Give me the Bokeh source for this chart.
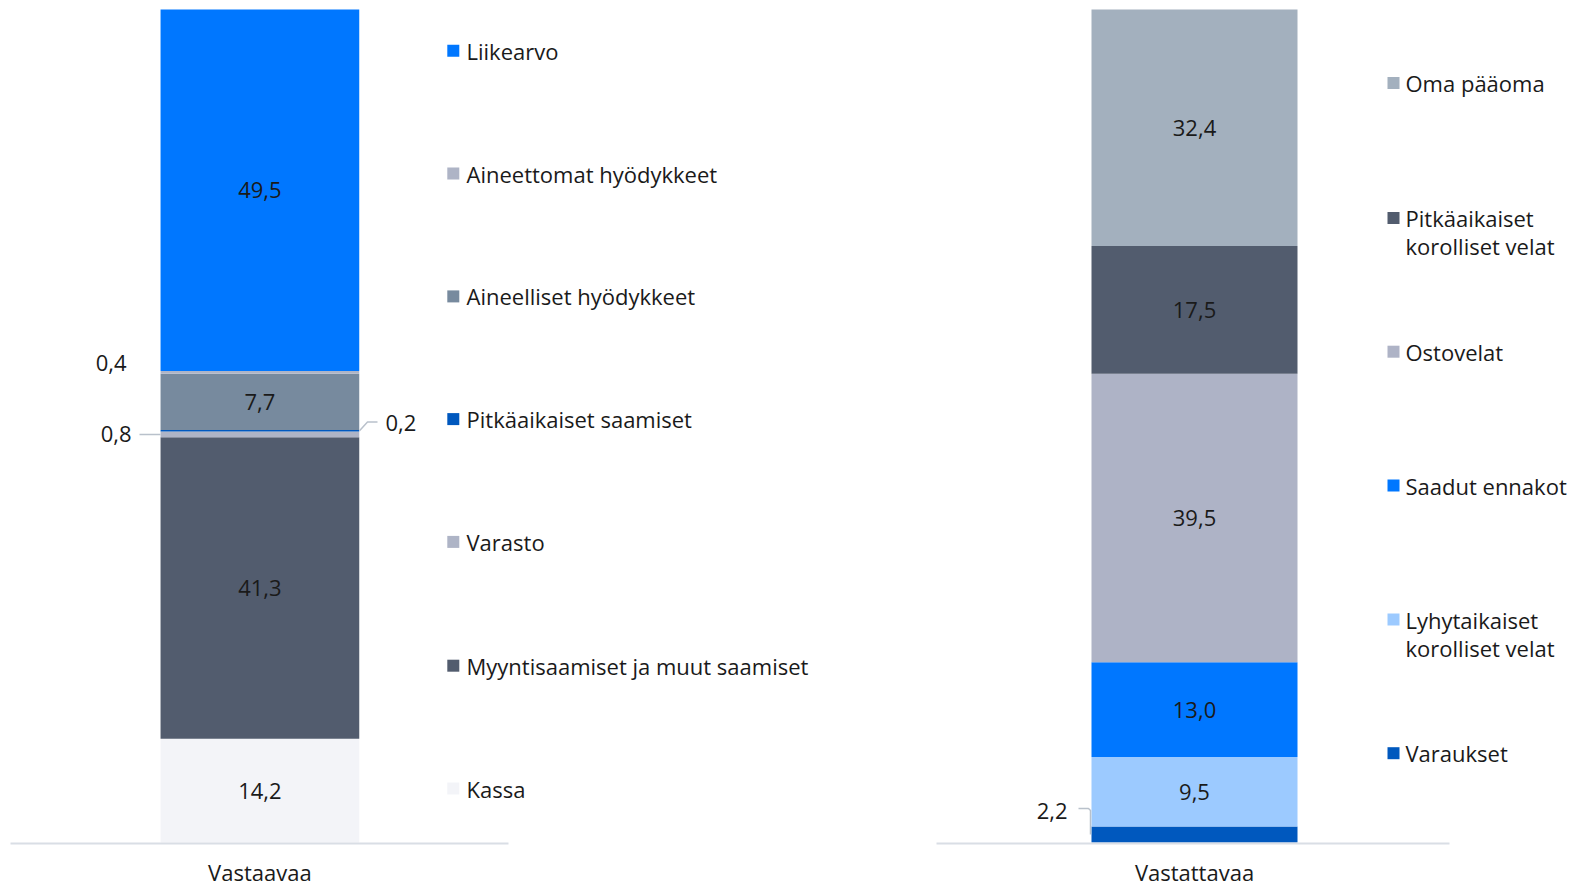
from bokeh.plotting import figure
from bokeh.models import Range1d, ColumnDataSource
from bokeh.core.properties import value
from bokeh.embed import file_html
from bokeh.resources import INLINE
import numpy as np

# ---------------- data ----------------
categories = ["Vastaavaa", "Vastattavaa"]

assets_labels = ["Kassa", "Myyntisaamiset ja muut saamiset", "Varasto",
                 "Pitkäaikaiset saamiset", "Aineelliset hyödykkeet",
                 "Aineettomat hyödykkeet", "Liikearvo"]
assets_values = [14.2, 41.3, 0.8, 0.2, 7.7, 0.4, 49.5]
assets_colors = ["#F3F4F8", "#525C6E", "#AEB4C6", "#0058BE", "#778A9E",
                 "#AEB4C6", "#0077FF"]

liab_labels = ["Varaukset", "Lyhytaikaiset\nkorolliset velat", "Saadut ennakot",
               "Ostovelat", "Pitkäaikaiset\nkorolliset velat", "Oma pääoma"]
liab_values = [2.2, 9.5, 13.0, 39.5, 17.5, 32.4]
liab_colors = ["#0058BE", "#9CCAFF", "#0077FF", "#AEB3C6", "#525C6E", "#A3B0BE"]

# ---------------- layout helpers ----------------
W, H = 1578, 885
PX = 7.30            # pixels per unit
BASE = 842           # page y of value 0
def fy(page_y):      # page y -> data y
    return (BASE - page_y) / PX
def fx(page_x):      # page x -> data x
    return page_x

FONT = value("Open Sans")
FS = "22px"
TXT = "#1A1A1A"
LINE = 28.5          # px between legend text lines

p = figure(width=W, height=H, output_backend="svg", toolbar_location=None,
           x_range=Range1d(0, W), y_range=Range1d(fy(H), fy(0)),
           min_border=0, min_border_left=0, min_border_right=0,
           min_border_top=0, min_border_bottom=0)
p.xaxis.visible = False
p.yaxis.visible = False
p.xgrid.visible = False
p.ygrid.visible = False
p.outline_line_color = None
p.background_fill_color = "white"
p.border_fill_color = "white"

def draw_stack(vals, cols, cx, width):
    v = np.array(vals, dtype=float)
    top = np.cumsum(v)
    bottom = top - v
    src = ColumnDataSource(dict(x=[cx] * len(v), bottom=bottom, top=top, color=cols))
    p.vbar(x="x", width=width, bottom="bottom", top="top", color="color",
           line_color=None, source=src)
    return bottom, top

# bars
lcx, lw = fx(259.4), 198.7
rcx, rw = fx(1194), 206
lb, lt = draw_stack(assets_values, assets_colors, lcx, lw)
rb, rt = draw_stack(liab_values, liab_colors, rcx, rw)

def fmt(v):
    return f"{v:.1f}".replace(".", ",")

def txt(xs, ys, ts, align):
    p.text(x=xs, y=ys, text=ts, text_align=align, text_baseline="middle",
           text_font=FONT, text_font_size=FS, text_color=TXT)

# in-bar labels for large segments
for vals, b, t, cx in ((assets_values, lb, lt, lcx), (liab_values, rb, rt, rcx)):
    xs, ys, ts = [], [], []
    for v, bb, tt in zip(vals, b, t):
        if v >= 5:
            xs.append(cx); ys.append((bb + tt) / 2); ts.append(fmt(v))
    txt(xs, ys, ts, "center")

LC = "#B9C1CB"
# 0,4 (Aineettomat)
i = assets_labels.index("Aineettomat hyödykkeet")
txt([fx(126)], [fy(362)], [fmt(assets_values[i])], "right")
# 0,8 (Varasto)
i = assets_labels.index("Varasto")
cy = (lb[i] + lt[i]) / 2
p.line(x=[fx(139), fx(160)], y=[cy, cy], line_color=LC, line_width=1.5)
txt([fx(131)], [cy], [fmt(assets_values[i])], "right")
# 0,2 (Pitkäaikaiset saamiset)
i = assets_labels.index("Pitkäaikaiset saamiset")
cy = (lb[i] + lt[i]) / 2
p.line(x=[fx(359), fx(367), fx(377)], y=[cy, fy(421.5), fy(421.5)],
       line_color=LC, line_width=1.5)
txt([fx(385)], [fy(422.5)], [fmt(assets_values[i])], "left")
# 2,2 (Varaukset)
i = liab_labels.index("Varaukset")
cy = (rb[i] + rt[i]) / 2
p.line(x=[fx(1078), fx(1088), fx(1090), fx(1090)],
       y=[fy(808), fy(808), fy(810), cy], line_color=LC, line_width=1.5)
txt([fx(1067)], [fy(810)], [fmt(liab_values[i])], "right")

# legends (top to bottom)
left_leg_y = [50.3, 173.1, 295.9, 418.6, 541.4, 665.2, 788.0]
right_leg_y = [82.5, 217.4, 351.2, 485.0, 619.0, 752.7]

def legend(labels, cols, ys, sq_x, tx_x):
    labs = list(reversed(labels)); cs = list(reversed(cols))
    p.scatter(x=[fx(sq_x)] * len(labs), y=[fy(y) for y in ys], marker="square",
              size=12, color=cs, line_color=None)
    xs, yy, tt = [], [], []
    for lab, y in zip(labs, ys):
        for k, line in enumerate(lab.split("\n")):
            xs.append(fx(tx_x)); yy.append(fy(y + k * LINE)); tt.append(line)
    txt(xs, yy, tt, "left")

legend(assets_labels, assets_colors, left_leg_y, 452.8, 466)
legend(liab_labels, liab_colors, right_leg_y, 1393, 1405)

# baselines
p.segment(x0=[fx(10), fx(936)], x1=[fx(508), fx(1449)], y0=[fy(843)] * 2,
          y1=[fy(843)] * 2, line_color="#D9DEE5", line_width=2)

# category labels
txt([lcx, rcx], [fy(871)] * 2, categories, "center")

open("out.html", "w").write(file_html(p, INLINE))
